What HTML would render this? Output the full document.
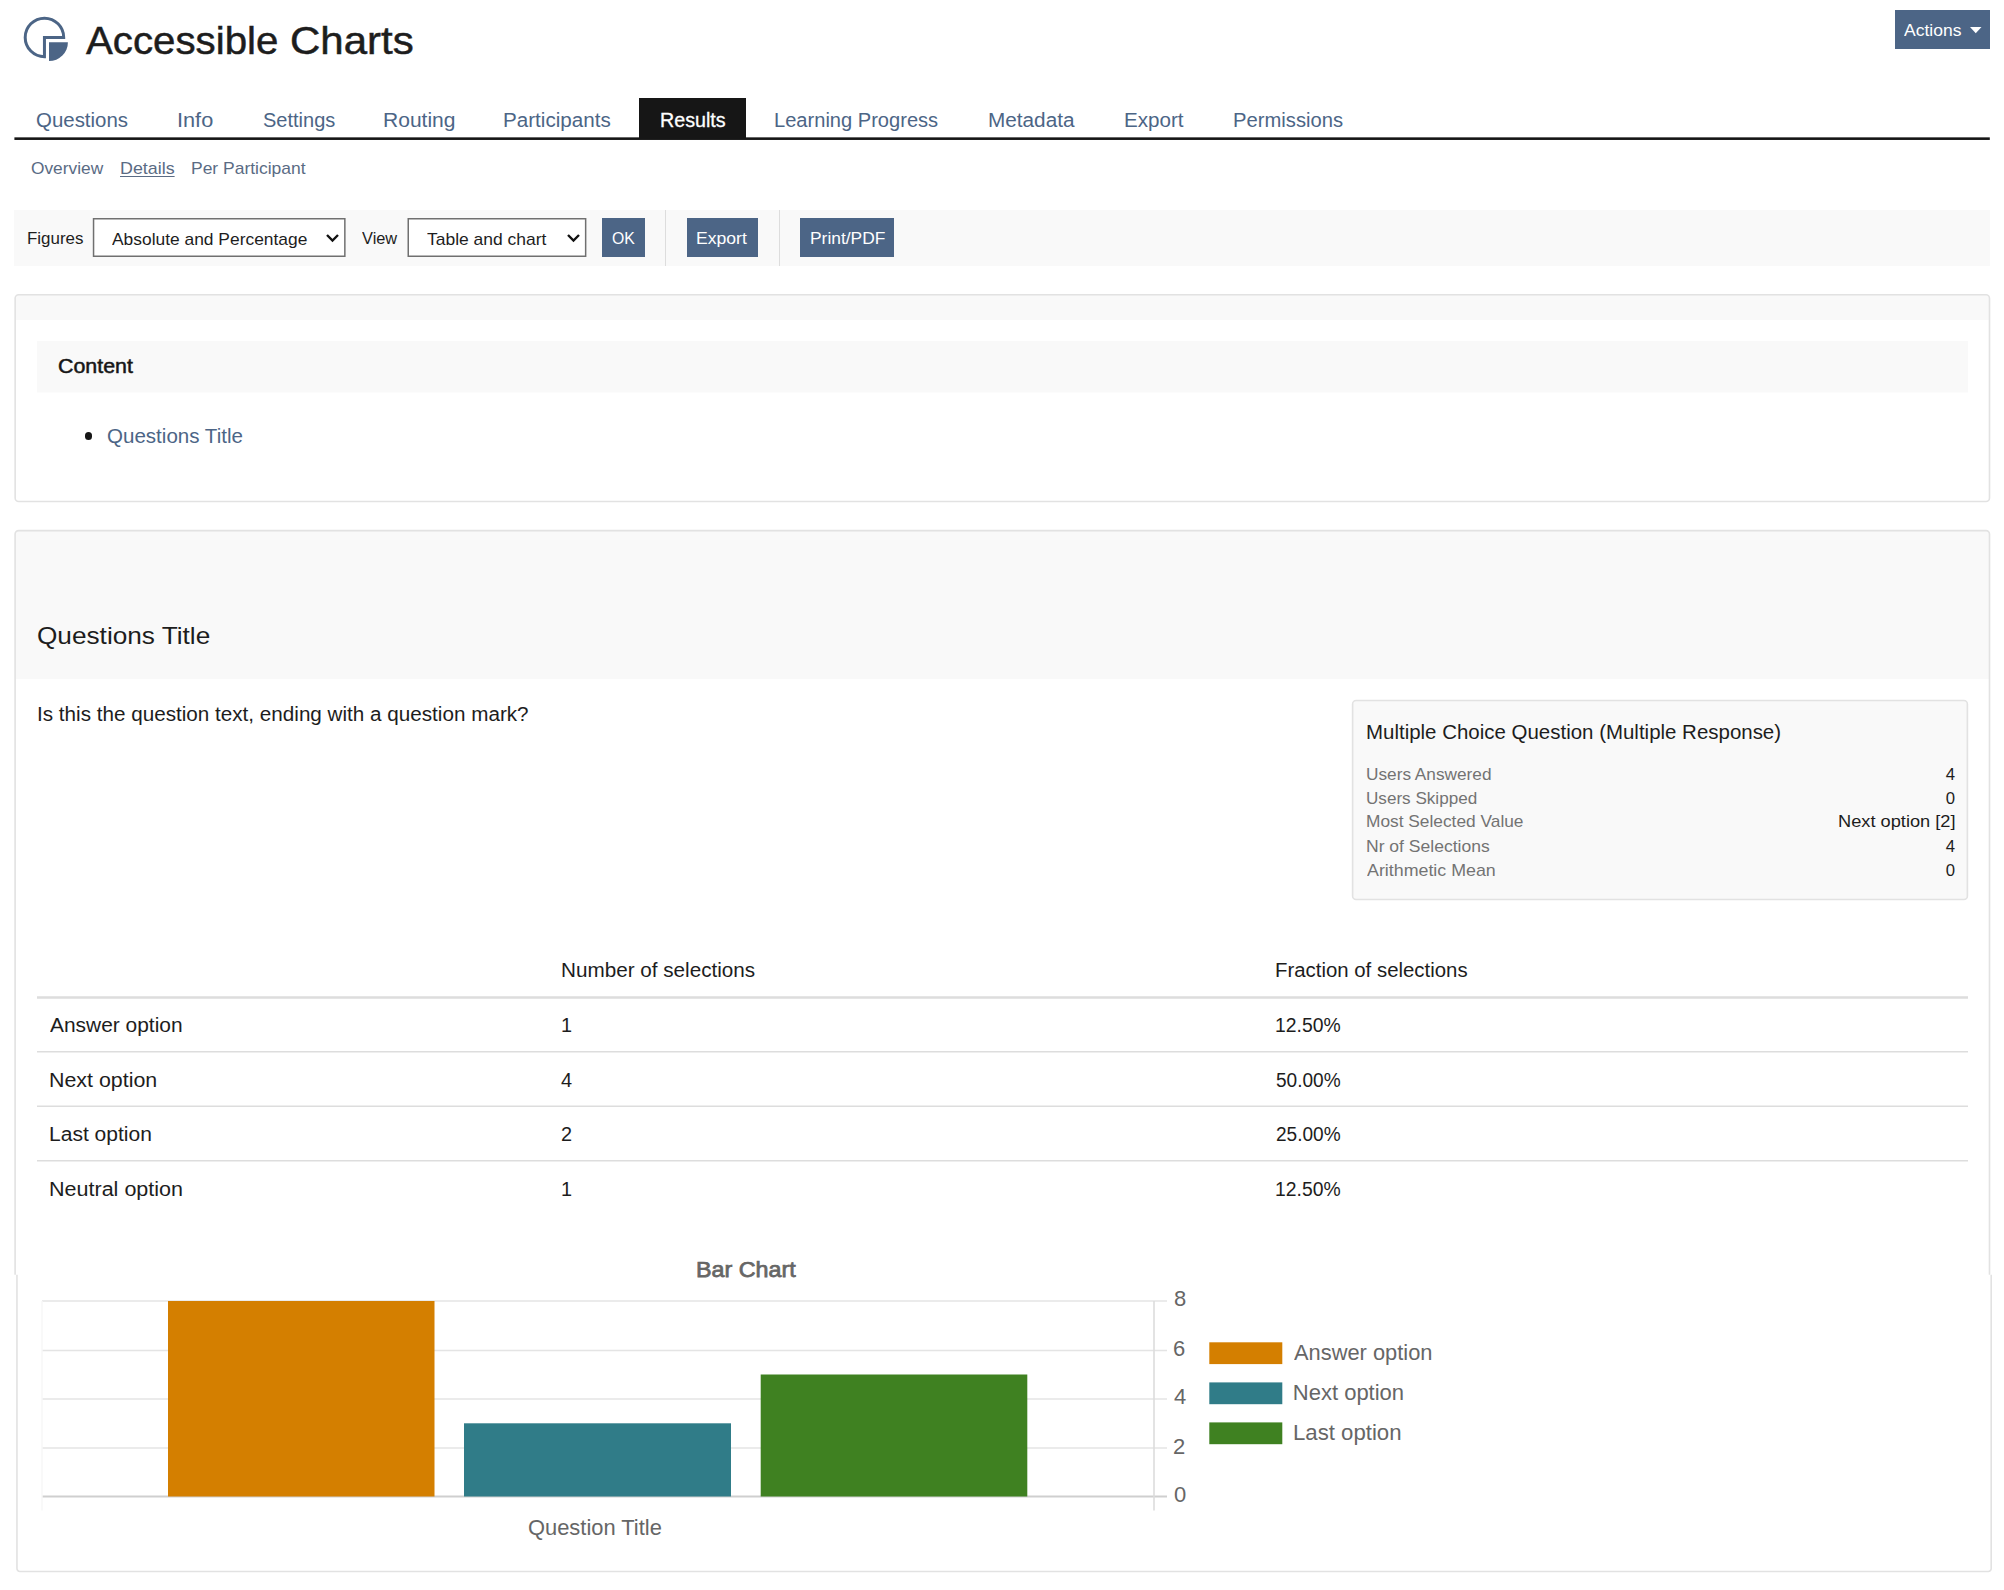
<!DOCTYPE html>
<html lang="en"><head><meta charset="utf-8"><title>Accessible Charts</title>
<style>
html,body{margin:0;padding:0;background:#fff;}
body{position:relative;width:2004px;height:1590px;overflow:hidden;font-family:"Liberation Sans",sans-serif;}
.t{position:absolute;transform-origin:0 0;white-space:nowrap;line-height:1;font-family:"Liberation Sans",sans-serif;}
.b{position:absolute;box-sizing:border-box;}
svg{position:absolute;overflow:visible;}

</style></head>
<body>
<!-- header icon -->
<svg style="left:20px;top:12px" width="52" height="52" viewBox="20 12 52 52">
  <path d="M44.45 37.4 L63.7 37.4 A19.25 19.25 0 1 0 44.45 56.65 Z" fill="none" stroke="#4c6586" stroke-width="3" stroke-linejoin="miter"/>
  <path d="M49 42.2 L67.9 42.2 A18.9 18.9 0 0 1 49 61.1 Z" fill="#4c6586"/>
</svg>
<!-- actions button -->
<div class="b" style="left:1895px;top:10px;width:95px;height:39px;background:#4c6586"></div>
<svg style="left:1969.5px;top:26.5px" width="12" height="7" viewBox="0 0 12 7"><path d="M0 0 L11.5 0 L5.75 6.3 Z" fill="#fff"/></svg>
<!-- tabs -->
<svg style="left:14px;top:136px" width="1976" height="5" viewBox="14 136 1976 5"><rect x="14.4" y="137.35" width="1975.4" height="2.6" fill="#161616"/></svg>
<div class="b" style="left:639px;top:98px;width:107px;height:41px;background:#161616"></div>
<!-- toolbar -->
<div class="b" style="left:14px;top:210px;width:1976px;height:56px;background:#f9f9f9"></div>
<svg style="left:90px;top:215px" width="500" height="45" viewBox="90 215 500 45">
  <rect x="93.55" y="218.75" width="251.3" height="37.5" fill="#fff" stroke="#707070" stroke-width="1.5"/>
  <rect x="408.25" y="218.75" width="177.4" height="37.5" fill="#fff" stroke="#707070" stroke-width="1.5"/>
</svg>
<svg style="left:326px;top:234px" width="13" height="8" viewBox="0 0 13 8"><path d="M1 1 L6.5 6.5 L12 1" fill="none" stroke="#111" stroke-width="2.4"/></svg>
<svg style="left:567px;top:234px" width="13" height="8" viewBox="0 0 13 8"><path d="M1 1 L6.5 6.5 L12 1" fill="none" stroke="#111" stroke-width="2.4"/></svg>
<div class="b" style="left:602px;top:218px;width:42.5px;height:39px;background:#4c6586"></div>
<div class="b" style="left:665px;top:210px;width:1px;height:56px;background:#ddd"></div>
<div class="b" style="left:687px;top:218px;width:70.5px;height:39px;background:#4c6586"></div>
<div class="b" style="left:779px;top:210px;width:1px;height:56px;background:#ddd"></div>
<div class="b" style="left:800px;top:218px;width:94px;height:39px;background:#4c6586"></div>
<!-- panel 1 -->
<div class="b" style="left:15px;top:295px;width:1974px;height:25px;background:#f9f9f9;border-radius:3px 3px 0 0"></div>
<div class="b" style="left:37px;top:341px;width:1931px;height:51px;background:#f9f9f9"></div>
<div class="b" style="left:37px;top:392px;width:1931px;height:1px;background:#fcfcfc"></div>
<div class="b" style="left:84.7px;top:432.4px;width:7.2px;height:7.2px;border-radius:50%;background:#161616"></div>
<!-- panel 2 -->
<div class="b" style="left:15px;top:531px;width:1974px;height:148px;background:#f9f9f9;border-radius:3px 3px 0 0"></div>
<svg style="left:0;top:0" width="2004" height="1590" viewBox="0 0 2004 1590">
  <g fill="none" stroke="#e2e2e2" stroke-width="1.6">
    <rect x="15.15" y="294.7" width="1974.35" height="206.8" rx="3.5"/>
    <path d="M15.1 1274.8 V534.1 a3.5 3.5 0 0 1 3.5 -3.5 H1986 a3.5 3.5 0 0 1 3.5 3.5 V1274.8"/>
    <path d="M16.95 1274.8 V1568.5 a3 3 0 0 0 3 3 H1988.2 a3 3 0 0 0 3 -3 V1274.8"/>
  </g>
</svg>
<!-- stats box -->
<svg style="left:1345px;top:695px" width="630" height="212" viewBox="1345 695 630 212">
  <rect x="1352.6" y="700.5" width="614.8" height="199" rx="3.5" fill="#f9f9f9" stroke="#e2e2e2" stroke-width="1.6"/>
</svg>
<!-- table lines -->
<svg style="left:0;top:990px" width="2004" height="180" viewBox="0 990 2004 180">
  <g stroke="#dddddd">
    <line x1="37" y1="997.5" x2="1968" y2="997.5" stroke-width="2.3"/>
    <line x1="37" y1="1051.8" x2="1968" y2="1051.8" stroke-width="1.5"/>
    <line x1="37" y1="1106.3" x2="1968" y2="1106.3" stroke-width="1.5"/>
    <line x1="37" y1="1160.8" x2="1968" y2="1160.8" stroke-width="1.5"/>
  </g>
</svg>
<!-- chart -->
<svg style="left:0;top:1280px" width="2004" height="300" viewBox="0 1280 2004 300">
  <g stroke="#e4e4e4" stroke-width="1.6">
    <line x1="42" y1="1301" x2="1167" y2="1301"/>
    <line x1="42" y1="1350.5" x2="1167" y2="1350.5"/>
    <line x1="42" y1="1399" x2="1167" y2="1399"/>
    <line x1="42" y1="1448" x2="1167" y2="1448"/>
  </g>
  <line x1="42" y1="1496.5" x2="1167" y2="1496.5" stroke="#cfcfcf" stroke-width="2"/>
  <line x1="1154" y1="1301" x2="1154" y2="1510.5" stroke="#dcdcdc" stroke-width="1.6"/>
  <line x1="42" y1="1301" x2="42" y2="1510.5" stroke="#f7f7f7" stroke-width="1.5"/>
  <rect x="168" y="1301" width="266.5" height="195.5" fill="#d47f00"/>
  <rect x="464" y="1423.3" width="267" height="73.2" fill="#307c88"/>
  <rect x="760.7" y="1374.5" width="266.6" height="122" fill="#3f8121"/>
  <rect x="1209.3" y="1342.3" width="73" height="21.8" fill="#d47f00"/>
  <rect x="1209.3" y="1382.4" width="73" height="21.8" fill="#307c88"/>
  <rect x="1209.3" y="1422.4" width="73" height="21.8" fill="#3f8121"/>
</svg>

<span class="t" id="t0" style="left:86.00px;top:21px;font-size:39.5px;color:#1d1d1d;-webkit-text-stroke:0.5px #1d1d1d;transform:scaleX(1.0190);">Accessible</span>
<span class="t" id="t1" style="left:289.97px;top:21px;font-size:39.5px;color:#1d1d1d;-webkit-text-stroke:0.5px #1d1d1d;transform:scaleX(1.0635);">Charts</span>
<span class="t" id="t2" style="left:35.70px;top:111px;font-size:19.5px;color:#4c6586;transform:scaleX(1.0483);">Questions</span>
<span class="t" id="t3" style="left:176.59px;top:111px;font-size:19.5px;color:#4c6586;transform:scaleX(1.1143);">Info</span>
<span class="t" id="t4" style="left:262.50px;top:111px;font-size:19.5px;color:#4c6586;transform:scaleX(1.0253);">Settings</span>
<span class="t" id="t5" style="left:383.42px;top:111px;font-size:19.5px;color:#4c6586;transform:scaleX(1.0785);">Routing</span>
<span class="t" id="t6" style="left:502.64px;top:111px;font-size:19.5px;color:#4c6586;transform:scaleX(1.0580);">Participants</span>
<span class="t" id="t7" style="left:774.17px;top:111px;font-size:19.5px;color:#4c6586;transform:scaleX(1.0303);">Learning Progress</span>
<span class="t" id="t8" style="left:987.64px;top:111px;font-size:19.5px;color:#4c6586;transform:scaleX(1.0639);">Metadata</span>
<span class="t" id="t9" style="left:1123.64px;top:111px;font-size:19.5px;color:#4c6586;transform:scaleX(1.0565);">Export</span>
<span class="t" id="t10" style="left:1232.66px;top:111px;font-size:19.5px;color:#4c6586;transform:scaleX(1.0366);">Permissions</span>
<span class="t" id="t11" style="left:659.89px;top:111px;font-size:19.5px;color:#ffffff;-webkit-text-stroke:0.3px #fff;transform:scaleX(1.0098);">Results</span>
<span class="t" id="t12" style="left:31.40px;top:160px;font-size:16.4px;color:#5a6b84;transform:scaleX(1.0559);">Overview</span>
<span class="t" id="t13" style="left:119.61px;top:160px;font-size:16.4px;color:#5a6b84;text-decoration:underline;text-underline-offset:2px;transform:scaleX(1.0899);">Details</span>
<span class="t" id="t14" style="left:190.93px;top:160px;font-size:16.4px;color:#5a6b84;transform:scaleX(1.0660);">Per Participant</span>
<span class="t" id="t15" style="left:1903.80px;top:22px;font-size:16.4px;color:#ffffff;transform:scaleX(1.0681);">Actions</span>
<span class="t" id="t16" style="left:26.98px;top:231px;font-size:16.6px;color:#1d1d1d;transform:scaleX(1.0197);">Figures</span>
<span class="t" id="t17" style="left:111.80px;top:232px;font-size:16.6px;color:#1d1d1d;transform:scaleX(1.0482);">Absolute and Percentage</span>
<span class="t" id="t18" style="left:361.80px;top:231px;font-size:16.6px;color:#1d1d1d;transform:scaleX(0.9868);">View</span>
<span class="t" id="t19" style="left:427.40px;top:232px;font-size:16.6px;color:#1d1d1d;transform:scaleX(1.0522);">Table and chart</span>
<span class="t" id="t20" style="left:611.60px;top:230px;font-size:16.4px;color:#ffffff;transform:scaleX(0.9642);">OK</span>
<span class="t" id="t21" style="left:696.33px;top:230px;font-size:16.4px;color:#ffffff;transform:scaleX(1.0723);">Export</span>
<span class="t" id="t22" style="left:809.94px;top:230px;font-size:16.4px;color:#ffffff;transform:scaleX(1.0611);">Print/PDF</span>
<span class="t" id="t23" style="left:57.80px;top:357px;font-size:19.5px;color:#161616;-webkit-text-stroke:0.5px #161616;transform:scaleX(1.0961);">Content</span>
<span class="t" id="t24" style="left:106.90px;top:427px;font-size:19.5px;color:#4c6586;transform:scaleX(1.0538);">Questions Title</span>
<span class="t" id="t25" style="left:36.52px;top:624px;font-size:24.3px;color:#1d1d1d;transform:scaleX(1.0781);">Questions Title</span>
<span class="t" id="t26" style="left:36.54px;top:705px;font-size:19.5px;color:#1d1d1d;transform:scaleX(1.0596);">Is this the question text, ending with a question mark?</span>
<span class="t" id="t27" style="left:1365.65px;top:723px;font-size:19.5px;color:#1d1d1d;transform:scaleX(1.0492);">Multiple Choice Question (Multiple Response)</span>
<span class="t" id="t28" style="left:1365.55px;top:766px;font-size:16.4px;color:#737373;transform:scaleX(1.0518);">Users Answered</span>
<span class="t" id="t29" style="right:48.70px;transform-origin:100% 0;top:766px;font-size:16.4px;color:#1d1d1d;transform:scaleX(1.0200);">4</span>
<span class="t" id="t30" style="left:1365.56px;top:790px;font-size:16.4px;color:#737373;transform:scaleX(1.0429);">Users Skipped</span>
<span class="t" id="t31" style="right:48.70px;transform-origin:100% 0;top:790px;font-size:16.4px;color:#1d1d1d;transform:scaleX(1.0200);">0</span>
<span class="t" id="t32" style="left:1365.54px;top:813px;font-size:16.4px;color:#737373;transform:scaleX(1.0561);">Most Selected Value</span>
<span class="t" id="t33" style="left:1837.69px;top:813px;font-size:16.4px;color:#1d1d1d;transform:scaleX(1.1120);">Next option [2]</span>
<span class="t" id="t34" style="left:1365.53px;top:838px;font-size:16.4px;color:#737373;transform:scaleX(1.0690);">Nr of Selections</span>
<span class="t" id="t35" style="right:48.70px;transform-origin:100% 0;top:838px;font-size:16.4px;color:#1d1d1d;transform:scaleX(1.0200);">4</span>
<span class="t" id="t36" style="left:1366.60px;top:862px;font-size:16.4px;color:#737373;transform:scaleX(1.0871);">Arithmetic Mean</span>
<span class="t" id="t37" style="right:48.70px;transform-origin:100% 0;top:862px;font-size:16.4px;color:#1d1d1d;transform:scaleX(1.0200);">0</span>
<span class="t" id="t38" style="left:561.34px;top:961px;font-size:19.5px;color:#1d1d1d;transform:scaleX(1.0602);">Number of selections</span>
<span class="t" id="t39" style="left:1274.95px;top:961px;font-size:19.5px;color:#1d1d1d;transform:scaleX(1.0452);">Fraction of selections</span>
<span class="t" id="t40" style="left:49.60px;top:1016px;font-size:19.5px;color:#1d1d1d;transform:scaleX(1.0731);">Answer option</span>
<span class="t" id="t41" style="left:561.38px;top:1016px;font-size:19.5px;color:#1d1d1d;transform:scaleX(1.0200);">1</span>
<span class="t" id="t42" style="left:1275.01px;top:1016px;font-size:19.5px;color:#1d1d1d;transform:scaleX(0.9923);">12.50%</span>
<span class="t" id="t43" style="left:48.50px;top:1071px;font-size:19.5px;color:#1d1d1d;transform:scaleX(1.0971);">Next option</span>
<span class="t" id="t44" style="left:561.10px;top:1071px;font-size:19.5px;color:#1d1d1d;transform:scaleX(1.0200);">4</span>
<span class="t" id="t45" style="left:1276.00px;top:1071px;font-size:19.5px;color:#1d1d1d;transform:scaleX(0.9772);">50.00%</span>
<span class="t" id="t46" style="left:48.52px;top:1125px;font-size:19.5px;color:#1d1d1d;transform:scaleX(1.0784);">Last option</span>
<span class="t" id="t47" style="left:561.10px;top:1125px;font-size:19.5px;color:#1d1d1d;transform:scaleX(1.0200);">2</span>
<span class="t" id="t48" style="left:1276.00px;top:1125px;font-size:19.5px;color:#1d1d1d;transform:scaleX(0.9772);">25.00%</span>
<span class="t" id="t49" style="left:48.50px;top:1180px;font-size:19.5px;color:#1d1d1d;transform:scaleX(1.1040);">Neutral option</span>
<span class="t" id="t50" style="left:561.38px;top:1180px;font-size:19.5px;color:#1d1d1d;transform:scaleX(1.0200);">1</span>
<span class="t" id="t51" style="left:1275.01px;top:1180px;font-size:19.5px;color:#1d1d1d;transform:scaleX(0.9923);">12.50%</span>
<span class="t" id="t52" style="left:696.14px;top:1259px;font-size:22px;color:#666666;-webkit-text-stroke:0.75px #666;transform:scaleX(1.0588);">Bar Chart</span>
<span class="t" id="t53" style="left:527.61px;top:1517px;font-size:22px;color:#666666;transform:scaleX(0.9949);">Question Title</span>
<span class="t" id="t54" style="left:1174.00px;top:1288px;font-size:22px;color:#666666;">8</span>
<span class="t" id="t55" style="left:1173.00px;top:1338px;font-size:22px;color:#666666;">6</span>
<span class="t" id="t56" style="left:1174.00px;top:1386px;font-size:22px;color:#666666;">4</span>
<span class="t" id="t57" style="left:1173.00px;top:1436px;font-size:22px;color:#666666;">2</span>
<span class="t" id="t58" style="left:1174.00px;top:1484px;font-size:22px;color:#666666;">0</span>
<span class="t" id="t59" style="left:1293.80px;top:1342px;font-size:22px;color:#666666;transform:scaleX(0.9929);">Answer option</span>
<span class="t" id="t60" style="left:1292.80px;top:1382px;font-size:22px;color:#666666;">Next option</span>
<span class="t" id="t61" style="left:1292.79px;top:1422px;font-size:22px;color:#666666;transform:scaleX(1.0085);">Last option</span>
</body></html>
